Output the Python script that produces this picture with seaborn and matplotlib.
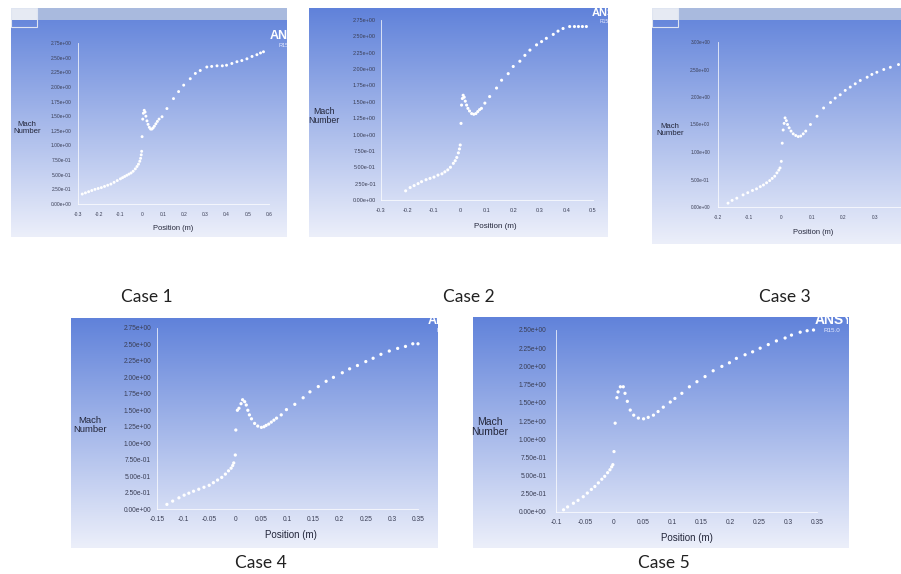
import numpy as np
import matplotlib
matplotlib.use("Agg")
import matplotlib.pyplot as plt
from matplotlib.ticker import AutoMinorLocator, FixedLocator, FixedFormatter
from matplotlib.patches import Rectangle
import seaborn as sns

sns.set_theme(style="white")
plt.rcParams["font.family"] = ["Liberation Sans Narrow", "Liberation Sans", "DejaVu Sans"]

# ---------------- data ----------------
c1_x = [-0.28, -0.265, -0.25, -0.235, -0.22, -0.205, -0.19, -0.175, -0.16, -0.145, -0.13, -0.115,
        -0.10, -0.09, -0.08, -0.07, -0.06, -0.05, -0.04, -0.03, -0.022, -0.015, -0.009, -0.005, -0.002, 0.0,
        0.002, 0.005, 0.008, 0.012, 0.016, 0.02, 0.025, 0.03, 0.036, 0.042, 0.048, 0.054, 0.06, 0.067, 0.074, 0.082,
        0.096, 0.119, 0.15, 0.174, 0.198, 0.229, 0.253, 0.276, 0.307, 0.33, 0.355, 0.38, 0.40, 0.425, 0.449,
        0.472, 0.496, 0.52, 0.543, 0.56, 0.574]
c1_y = [0.17, 0.19, 0.21, 0.23, 0.25, 0.265, 0.28, 0.30, 0.32, 0.34, 0.37, 0.40,
        0.43, 0.45, 0.47, 0.49, 0.51, 0.53, 0.56, 0.60, 0.64, 0.68, 0.73, 0.78, 0.84, 0.90,
        1.15, 1.45, 1.55, 1.60, 1.57, 1.50, 1.42, 1.36, 1.31, 1.28, 1.28, 1.30, 1.33, 1.37, 1.41, 1.45,
        1.49, 1.63, 1.80, 1.92, 2.03, 2.14, 2.23, 2.28, 2.34, 2.35, 2.36, 2.36, 2.37, 2.40, 2.43,
        2.45, 2.48, 2.52, 2.55, 2.58, 2.60]

c2_x = [-0.207, -0.19, -0.175, -0.16, -0.147, -0.13, -0.115, -0.10, -0.085, -0.07, -0.059, -0.048, -0.038,
        -0.027, -0.02, -0.014, -0.008, -0.004, -0.001,
        0.002, 0.004, 0.007, 0.01, 0.014, 0.018, 0.023, 0.028, 0.034, 0.042, 0.05, 0.058, 0.065, 0.072,
        0.079, 0.092, 0.11, 0.136, 0.155, 0.18, 0.199, 0.224, 0.243, 0.262, 0.287, 0.306, 0.324, 0.35, 0.368,
        0.387, 0.412, 0.43, 0.445, 0.46, 0.475]
c2_y = [0.14, 0.19, 0.22, 0.25, 0.28, 0.31, 0.33, 0.35, 0.38, 0.40, 0.43, 0.46, 0.50,
        0.56, 0.60, 0.65, 0.72, 0.78, 0.84,
        1.17, 1.45, 1.55, 1.60, 1.57, 1.51, 1.45, 1.40, 1.36, 1.32, 1.31, 1.32, 1.35, 1.38,
        1.40, 1.48, 1.58, 1.71, 1.83, 1.93, 2.04, 2.12, 2.21, 2.29, 2.37, 2.42, 2.47, 2.53, 2.58,
        2.62, 2.65, 2.65, 2.65, 2.65, 2.65]

c3_x = [-0.168, -0.155, -0.14, -0.12, -0.105, -0.09, -0.077, -0.065, -0.055, -0.045, -0.035, -0.027, -0.019,
        -0.012, -0.006, -0.002, 0.002,
        0.005, 0.008, 0.011, 0.014, 0.018, 0.022, 0.027, 0.033, 0.04, 0.048, 0.056, 0.064, 0.072, 0.08,
        0.095, 0.116, 0.137, 0.159, 0.174, 0.19, 0.206, 0.222, 0.238, 0.254, 0.276, 0.291, 0.307, 0.329,
        0.35, 0.376]
c3_y = [0.07, 0.12, 0.16, 0.22, 0.26, 0.30, 0.33, 0.37, 0.40, 0.44, 0.48, 0.52, 0.56,
        0.62, 0.67, 0.71, 0.83,
        1.16, 1.40, 1.52, 1.62, 1.57, 1.50, 1.44, 1.38, 1.33, 1.30, 1.28, 1.29, 1.33, 1.38,
        1.50, 1.65, 1.80, 1.90, 1.98, 2.04, 2.12, 2.18, 2.24, 2.30, 2.36, 2.41, 2.45, 2.50,
        2.54, 2.59]

c4_x = [-0.131, -0.12, -0.108, -0.098, -0.089, -0.08, -0.07, -0.06, -0.05, -0.042, -0.034, -0.026, -0.019,
        -0.013, -0.008, -0.005, -0.003, 0.0,
        0.001, 0.004, 0.007, 0.011, 0.014, 0.018, 0.021, 0.024, 0.027, 0.031, 0.037, 0.043, 0.05, 0.055,
        0.059, 0.064, 0.069, 0.074, 0.079,
        0.088, 0.098, 0.114, 0.13, 0.143, 0.159, 0.174, 0.188, 0.205, 0.219, 0.234, 0.25, 0.264, 0.279,
        0.295, 0.311, 0.326, 0.34, 0.35]
c4_y = [0.07, 0.12, 0.17, 0.21, 0.24, 0.27, 0.30, 0.33, 0.36, 0.40, 0.44, 0.48, 0.53,
        0.58, 0.62, 0.66, 0.70, 0.82,
        1.20, 1.50, 1.53, 1.60, 1.66, 1.63, 1.58, 1.50, 1.43, 1.37, 1.30, 1.26, 1.24, 1.25,
        1.27, 1.29, 1.32, 1.35, 1.38,
        1.43, 1.51, 1.59, 1.69, 1.78, 1.86, 1.94, 2.00, 2.07, 2.13, 2.18, 2.24, 2.29, 2.35,
        2.40, 2.44, 2.47, 2.51, 2.51]

c5_x = [-0.087, -0.08, -0.07, -0.062, -0.053, -0.046, -0.039, -0.033, -0.027, -0.021, -0.016, -0.011,
        -0.007, -0.004, -0.002, 0.0,
        0.002, 0.005, 0.007, 0.011, 0.016, 0.019, 0.023, 0.028, 0.034, 0.042, 0.051, 0.059, 0.068, 0.076,
        0.085,
        0.097, 0.105, 0.117, 0.13, 0.143, 0.157, 0.171, 0.186, 0.199, 0.211, 0.226, 0.239, 0.252, 0.266,
        0.28, 0.295, 0.306, 0.321, 0.333, 0.344]
c5_y = [0.03, 0.07, 0.12, 0.16, 0.21, 0.26, 0.31, 0.35, 0.40, 0.45, 0.49, 0.54,
        0.58, 0.62, 0.65, 0.83,
        1.22, 1.57, 1.65, 1.72, 1.72, 1.63, 1.52, 1.40, 1.33, 1.29, 1.28, 1.30, 1.33, 1.38,
        1.44,
        1.51, 1.56, 1.63, 1.72, 1.79, 1.86, 1.94, 2.00, 2.05, 2.11, 2.16, 2.20, 2.25, 2.30,
        2.35, 2.39, 2.43, 2.47, 2.49, 2.50]

case_labels = ["Case 1", "Case 2", "Case 3", "Case 4", "Case 5"]

c1_xticks = [-0.3, -0.2, -0.1, 0, 0.1, 0.2, 0.3, 0.4, 0.5, 0.6]
c1_xlabels = ["-0.3", "-0.2", "-0.1", "0", "0.1", "0.2", "0.3", "0.4", "0.5", "0.6"]
c1_yticks = [0, 0.25, 0.5, 0.75, 1.0, 1.25, 1.5, 1.75, 2.0, 2.25, 2.5, 2.75]

c2_xticks = [-0.3, -0.2, -0.1, 0, 0.1, 0.2, 0.3, 0.4, 0.5]
c2_xlabels = ["-0.3", "-0.2", "-0.1", "0", "0.1", "0.2", "0.3", "0.4", "0.5"]
c2_yticks = [0, 0.25, 0.5, 0.75, 1.0, 1.25, 1.5, 1.75, 2.0, 2.25, 2.5, 2.75]

c3_xticks = [-0.2, -0.1, 0, 0.1, 0.2, 0.3]
c3_xlabels = ["-0.2", "-0.1", "0", "0.1", "0.2", "0.3"]
c3_yticks = [0, 0.5, 1.0, 1.5, 2.0, 2.5, 3.0]

c4_xticks = [-0.15, -0.1, -0.05, 0, 0.05, 0.1, 0.15, 0.2, 0.25, 0.3, 0.35]
c4_xlabels = ["-0.15", "-0.1", "-0.05", "0", "0.05", "0.1", "0.15", "0.2", "0.25", "0.3", "0.35"]
c4_yticks = [0, 0.25, 0.5, 0.75, 1.0, 1.25, 1.5, 1.75, 2.0, 2.25, 2.5, 2.75]

c5_xticks = [-0.1, -0.05, 0, 0.05, 0.1, 0.15, 0.2, 0.25, 0.3, 0.35]
c5_xlabels = ["-0.1", "-0.05", "0", "0.05", "0.1", "0.15", "0.2", "0.25", "0.3", "0.35"]
c5_yticks = [0, 0.25, 0.5, 0.75, 1.0, 1.25, 1.5, 1.75, 2.0, 2.25, 2.5]

ylabel_text = "Mach\nNumber"
xlabel_text = "Position (m)"

# ---------------- layout (pixels, top-left origin) ----------------
W, H = 901, 574
fig = plt.figure(figsize=(W / 100, H / 100), dpi=100)
fig.patch.set_facecolor("white")


def rect(x0, y0, x1, y1):
    return [x0 / W, 1 - y1 / H, (x1 - x0) / W, (y1 - y0) / H]


top_col = np.array([96, 130, 218]) / 255
bot_col = np.array([236, 239, 250]) / 255
g = np.linspace(0, 1, 256)[:, None, None]
grad = top_col[None, None, :] * (1 - g) + bot_col[None, None, :] * g

panels = [
    dict(data=(c1_x, c1_y), xt=(c1_xticks, c1_xlabels), yt=c1_yticks,
         bg=(11, 8, 287, 237), ax=(78, 43, 269, 204), xlim=(-0.3, 0.6), ylim=(0, 2.75),
         titlebar=True, tfs=3.5, lfs=5.6, pfs=5.4, ms=4.5, ypad=5.0, xpad=6.0,
         ylab=(27, 128), xlab=(173, 228), logo=(270, 36, 9), cap=(147, 297)),
    dict(data=(c2_x, c2_y), xt=(c2_xticks, c2_xlabels), yt=c2_yticks,
         bg=(309, 8, 608, 237), ax=(381, 20, 593, 200), xlim=(-0.3, 0.5), ylim=(0, 2.75),
         titlebar=False, tfs=4.0, lfs=6.3, pfs=5.8, ms=5, ypad=3.6, xpad=5.5,
         ylab=(324, 116), xlab=(495, 227), logo=(592, 13, 8), cap=(469, 297)),
    dict(data=(c3_x, c3_y), xt=(c3_xticks, c3_xlabels), yt=c3_yticks,
         bg=(652, 8, 901, 244), ax=(718, 42, 901, 207), xlim=(-0.2, 0.384), ylim=(0, 3.0),
         titlebar=True, tfs=3.4, lfs=5.6, pfs=5.4, ms=4.5, ypad=5.8, xpad=6.0,
         ylab=(670, 130), xlab=(813, 233), logo=None, cap=(785, 297)),
    dict(data=(c4_x, c4_y), xt=(c4_xticks, c4_xlabels), yt=c4_yticks,
         bg=(71, 318, 438, 548), ax=(157, 328, 418, 509), xlim=(-0.15, 0.35), ylim=(0, 2.75),
         titlebar=False, tfs=4.8, lfs=6.8, pfs=7.0, ms=5.5, ypad=4.3, xpad=5.0,
         ylab=(90, 425), xlab=(291, 535), logo=(428, 321, 9), cap=(261, 563)),
    dict(data=(c5_x, c5_y), xt=(c5_xticks, c5_xlabels), yt=c5_yticks,
         bg=(473, 317, 848, 548), ax=(556, 330, 817, 512), xlim=(-0.1, 0.35), ylim=(0, 2.5),
         titlebar=False, tfs=4.8, lfs=7.5, pfs=7.0, ms=5.5, ypad=7.0, xpad=5.2,
         ylab=(490, 427), xlab=(687, 538), logo=(815, 320, 10), cap=(664, 563)),
]

text_col = "#23263a"
tick_col = "#3a3e55"

for i, p in enumerate(panels):
    # background screenshot panel
    bx = fig.add_axes(rect(*p["bg"]))
    bx.imshow(grad, aspect="auto", extent=[0, 1, 0, 1], origin="upper", interpolation="bilinear")
    bx.set_xlim(0, 1)
    bx.set_ylim(0, 1)
    bx.axis("off")
    x0, y0, x1, y1 = p["bg"]
    pw, ph = x1 - x0, y1 - y0
    if p["titlebar"]:
        bh = 12 / ph
        bx.add_patch(Rectangle((0, 1 - bh), 1, bh, color="#a9bade", lw=0, zorder=2))
        bx.add_patch(Rectangle((0, 1 - bh), 26 / pw, bh, color="#e6eaf3", lw=0, zorder=3))
        bx.add_patch(Rectangle((0, 1 - 19 / ph), 26 / pw, 19 / ph, fill=False,
                               ec="#dfe5f1", lw=0.8, zorder=3))
    if p["logo"] is not None:
        lx, ly, lfs = p["logo"]
        bx.text((lx - x0) / pw, 1 - (ly - y0) / ph, "ANSYS", transform=bx.transAxes,
                color="white", fontsize=lfs, fontweight="bold", ha="left", va="center",
                family=["Liberation Sans", "DejaVu Sans"], clip_on=True, zorder=4)
        bx.text((lx - x0 + lfs * 0.9) / pw, 1 - (ly - y0 + lfs * 1.1) / ph, "R15.0",
                transform=bx.transAxes, color="#e8ecff", fontsize=lfs * 0.45, ha="left",
                va="center", clip_on=True, zorder=4)

    # plot area
    ax = fig.add_axes(rect(*p["ax"]))
    ax.set_facecolor("none")
    xs, ys = p["data"]
    sns.scatterplot(x=xs, y=ys, ax=ax, color="white", s=p["ms"], linewidth=0,
                    edgecolor="none", zorder=5, clip_on=False, legend=False)
    ax.set_xlim(*p["xlim"])
    ax.set_ylim(*p["ylim"])
    for side in ("top", "right"):
        ax.spines[side].set_visible(False)
    for side in ("left", "bottom"):
        ax.spines[side].set_color("white")
        ax.spines[side].set_linewidth(0.6)
        ax.spines[side].set_alpha(0.85)
    xticks, xlabels = p["xt"]
    ax.xaxis.set_major_locator(FixedLocator(xticks))
    ax.xaxis.set_major_formatter(FixedFormatter(xlabels))
    ax.yaxis.set_major_locator(FixedLocator(p["yt"]))
    ax.yaxis.set_major_formatter(FixedFormatter([f"{v:.2e}" for v in p["yt"]]))
    ax.yaxis.set_minor_locator(AutoMinorLocator(5))
    ax.tick_params(axis="y", which="major", direction="in", length=2.2, width=0.5,
                   color="white", labelcolor=tick_col, labelsize=p["tfs"], pad=p["ypad"])
    ax.tick_params(axis="y", which="minor", direction="in", length=1.2, width=0.4, color="white")
    ax.tick_params(axis="x", which="major", direction="in", length=1.5, width=0.4,
                   color="white", labelcolor=tick_col, labelsize=p["tfs"], pad=p["xpad"])
    ax.grid(False)
    ax.set_xlabel("")
    ax.set_ylabel("")

    # axis titles
    fig.text(p["ylab"][0] / W, 1 - p["ylab"][1] / H, ylabel_text, ha="center", va="center",
             fontsize=p["lfs"], color=text_col, linespacing=1.05)
    fig.text(p["xlab"][0] / W, 1 - p["xlab"][1] / H, xlabel_text, ha="center", va="center",
             fontsize=p["pfs"], color=text_col)
    # case caption
    fig.text(p["cap"][0] / W, 1 - p["cap"][1] / H, case_labels[i], ha="center", va="center",
             fontsize=12.5, color="#222222", family=["Lato", "DejaVu Sans"])

fig.savefig("out.png", dpi=100, facecolor="white")
